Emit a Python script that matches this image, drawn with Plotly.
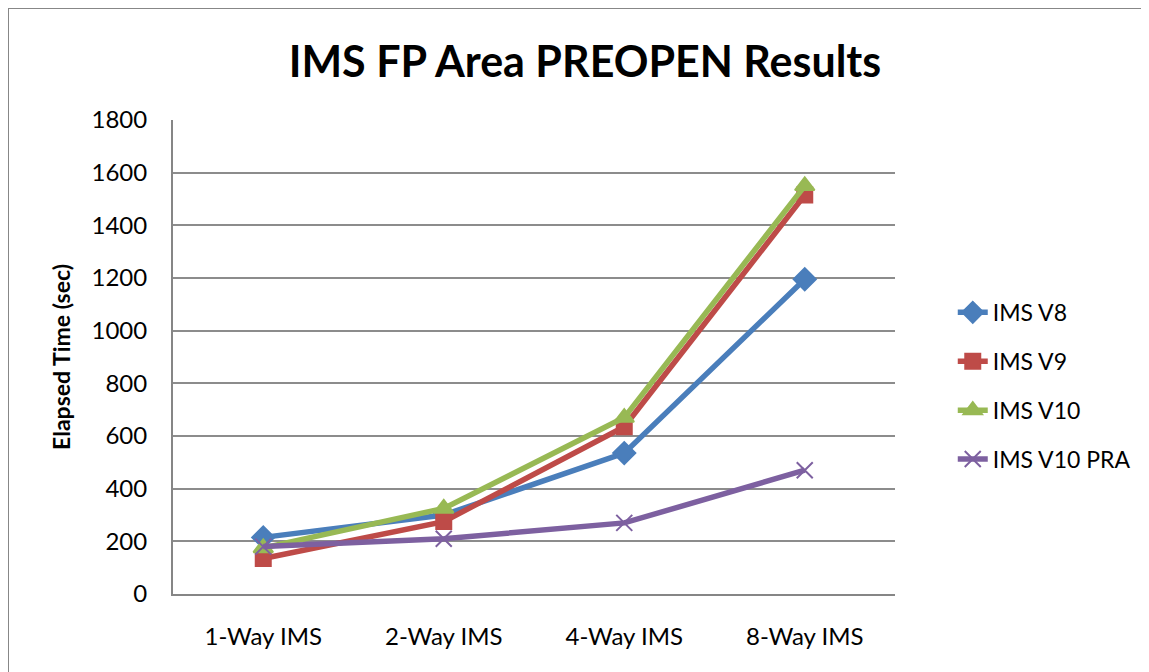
import plotly.graph_objects as go

categories = ["1-Way IMS", "2-Way IMS", "4-Way IMS", "8-Way IMS"]
ims_v8 = [215, 300, 535, 1195]
ims_v9 = [135, 275, 635, 1515]
ims_v10 = [175, 325, 670, 1550]
ims_v10_pra = [180, 210, 270, 470]
y_ticks = [0, 200, 400, 600, 800, 1000, 1200, 1400, 1600, 1800]

series = [
    ("IMS V8", ims_v8, "#4A7EBB", "diamond", 17),
    ("IMS V9", ims_v9, "#BE4B48", "square", 15),
    ("IMS V10", ims_v10, "#98B954", "triangle-up", 17),
    ("IMS V10 PRA", ims_v10_pra, "#7D60A0", "x-thin-open", 16),
]

FONT = "Lato, Calibri, Carlito, sans-serif"

# plot area in figure pixels
L, T, PW, PH = 165, 112, 722, 474
W, H = 1149, 672

fig = go.Figure()
for i, (name, vals, col, sym, sz) in enumerate(series):
    fig.add_trace(go.Scatter(
        x=categories, y=vals, name=name, mode="lines+markers",
        legendgroup=f"g{i}",
        line=dict(color=col, width=5.5),
        marker=dict(symbol=sym, size=sz, color=col,
                    line=dict(color=col, width=2)),
    ))

fig.update_layout(
    width=W, height=H,
    margin=dict(l=L, r=W - L - PW, t=T, b=H - T - PH),
    paper_bgcolor="white", plot_bgcolor="white",
    font=dict(family=FONT, size=24, color="black"),
    title=dict(text="<b>IMS FP Area PREOPEN Results</b>",
               font=dict(family=FONT, size=43, color="black"),
               x=577 / W, xref="container", xanchor="center",
               y=1 - 54 / H, yref="container", yanchor="middle"),
    legend=dict(x=1.080, xanchor="left", y=0.439, yanchor="middle",
                font=dict(family=FONT, size=23),
                traceorder="grouped", tracegroupgap=16,
                bgcolor="rgba(0,0,0,0)"),
    showlegend=True,
)
fig.update_xaxes(
    type="category", range=[-0.5, 3.5],
    showgrid=False, showline=True, linecolor="#868686", linewidth=2,
    ticks="", ticklabelstandoff=20, tickfont=dict(family=FONT, size=24),
    zeroline=False,
)
fig.update_yaxes(
    range=[0, 1800], tickvals=y_ticks,
    showgrid=True, gridcolor="#8C8C8C", gridwidth=2,
    showline=True, linecolor="#868686", linewidth=2,
    ticks="", ticklabelstandoff=19, tickfont=dict(family=FONT, size=24),
    zeroline=False,
    title=dict(text="<b>Elapsed Time (sec)</b>",
               font=dict(family=FONT, size=23), standoff=14),
)
# outer chart border
fig.add_shape(type="rect", xref="paper", yref="paper",
              x0=(0 - L) / PW, x1=(W + 10 - L) / PW,
              y0=(T + PH - H - 10) / PH, y1=(T + PH - 0) / PH,
              line=dict(color="#878787", width=2), layer="below")

fig.write_html("out.html")
